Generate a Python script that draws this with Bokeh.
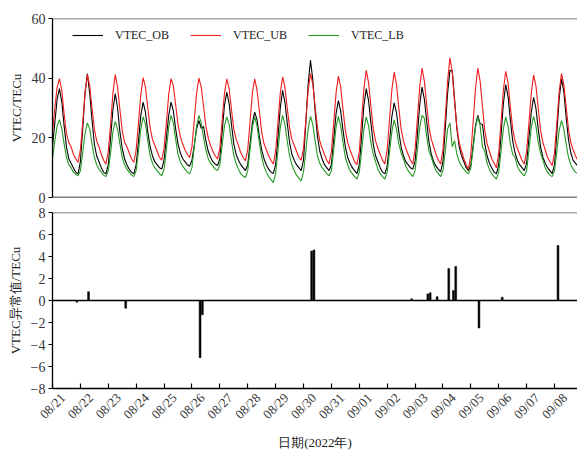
import math
import pandas as pd
from bokeh.plotting import figure
from bokeh.layouts import column
from bokeh.models import (Range1d, DatetimeAxis, DaysTicker, DatetimeTickFormatter,
                          FixedTicker, Legend, LegendItem, Span)
from bokeh.embed import file_html
from bokeh.resources import INLINE

# ---------------- data ----------------
start_time = "2022-08-21 00:00"
view_end = "2022-09-08 19:47"
sample_step = "2h"

vtec_ob = [
    17, 25, 33, 36.5, 32, 24, 17, 13, 11.5, 10, 8.5, 7.9,
    12, 23, 35, 41.5, 35, 26, 18, 14, 12, 10, 8.5, 7.9,
    11, 20, 29.5, 34.8, 30, 22, 16.5, 13, 11, 9.5, 8.5, 7.9,
    11, 19, 27.5, 32, 28.5, 22, 17, 14, 12, 11, 10, 9.5,
    12.5, 20, 27.5, 32, 29, 23, 18, 15, 13, 12, 11, 10.5,
    12.5, 17.5, 23, 25.8, 23.2, 23.8, 19, 15.5, 13.5, 12, 11.2, 10.7,
    13, 22, 31, 35.3, 31.5, 24.5, 18, 14.5, 12.5, 11, 10, 9,
    11, 18, 25, 28.6, 26, 20.5, 16, 13, 11, 9.5, 8.5, 8,
    11, 20, 30, 35.9, 32, 25, 18.5, 14.5, 12.5, 11, 10, 9,
    12.5, 25, 38, 46, 39.5, 29, 20.5, 15.5, 13, 11, 10, 9,
    11, 19.5, 28, 32.5, 29, 22.5, 17, 13.5, 11.5, 10, 9, 8,
    11, 20.5, 31, 36.5, 32.5, 25, 18, 14, 12, 10, 8.5, 7.9,
    10.5, 18.5, 27, 31.7, 28.5, 22, 17, 14, 12, 11, 10, 9.5,
    12, 21, 31, 37, 33, 25.5, 18.5, 14.5, 12, 10.5, 9.5, 8.6,
    12, 23, 35, 42.6, 42.5, 33, 23, 17, 14, 12, 10, 9,
    11, 17.5, 24, 27.5, 24.7, 24.5, 18, 14, 11.5, 10, 8.5, 7.9,
    11, 21, 31.5, 37.8, 34, 26, 19, 15, 12.5, 11, 10, 9,
    11.5, 20, 28.5, 33.6, 30, 23, 17, 13.5, 11.5, 10, 9, 8,
    11, 21.5, 33, 39.8, 35.5, 27, 19.5, 15, 12.5, 11.5, 10.5, 9.5,
]

vtec_ub = [
    22, 30, 37, 39.8, 36, 28, 21.5, 18.5, 17, 14.5, 13, 11.8,
    16, 25, 35, 41.2, 37.5, 30, 23, 19, 17, 14.5, 12.5, 11.2,
    15.5, 24.5, 35, 41.2, 37, 29.5, 22.5, 18.5, 17, 15, 13, 11.8,
    16, 25, 34.5, 40.2, 37, 30, 23.5, 19.5, 17.5, 15.5, 13.5, 12.5,
    16.5, 25, 34.5, 39.8, 37.5, 31, 24.5, 20.5, 18, 16, 14.5, 13.4,
    17, 26, 35, 40, 37, 30.5, 24, 20, 17.5, 15.5, 14, 12.9,
    16.5, 26, 35, 39.8, 36.5, 29.5, 23, 19.5, 17.5, 15, 13.5, 12.3,
    16, 25.5, 35, 39.8, 36, 29, 22, 18, 16, 14, 12.5, 11.2,
    15.5, 25, 35, 40.4, 37, 30, 23.5, 19.5, 17.5, 15.5, 13.5, 12.5,
    16.5, 26, 36, 41.5, 38, 30.5, 23.5, 19, 16.5, 14.5, 12.5, 11.2,
    15.5, 25, 35, 40.7, 37, 29.5, 22.5, 18.5, 16, 14, 12, 11,
    15.5, 26, 36.5, 42.6, 38.5, 30.5, 23, 19, 16.5, 14.5, 12.5, 11.2,
    16, 26, 36, 42, 38, 30, 23, 19, 16.5, 14.5, 12.5, 11.2,
    16, 26.5, 37, 43.4, 39, 31, 23.5, 19.5, 17, 14.5, 12.5, 11.2,
    16, 27, 39, 46.8, 42, 32, 23.5, 18.5, 15.5, 13, 11, 9.5,
    14.5, 25.5, 36.5, 43.4, 39, 30.5, 22.5, 18, 15.5, 13, 11.5, 10,
    15, 25.5, 36, 42.3, 38.5, 30.5, 23, 19, 16.5, 14.5, 12.5, 11.2,
    15.5, 25, 35, 41, 37.5, 30, 22.5, 18.5, 16, 13.5, 12, 10.7,
    15, 25, 35.5, 41.5, 38, 30.5, 23, 18.5, 16, 14, 12.5, 11.5,
]

vtec_lb = [
    13, 19, 24, 26.1, 23, 18, 13.5, 11, 10, 8.5, 7.8, 7.3,
    9, 15, 21.5, 25, 23, 18, 13.5, 11, 9.5, 8.5, 7.5, 7,
    9, 15, 22, 25.5, 23, 18, 13.5, 11, 9.5, 8.5, 7.5, 7,
    9, 15.5, 23, 27, 24.5, 19, 14, 11.5, 10, 9, 8, 7.3,
    9.5, 16, 23.5, 27.5, 25, 19.5, 14.5, 12, 10.5, 9.5, 8.5, 7.9,
    10, 17, 24, 27.5, 25, 20, 16, 13, 11.5, 10.5, 9.5, 9,
    11, 17.5, 24, 27, 24.5, 19, 14, 11.5, 9.5, 8, 7.2, 6.7,
    9, 16, 23.5, 27, 24, 18.5, 13.5, 10.5, 8.5, 7, 6, 5,
    8, 15.5, 23.5, 27.5, 24.5, 19, 14, 11, 9, 7.5, 6.5, 5.6,
    8.5, 15.5, 23, 27.2, 24.5, 19, 14, 11.5, 10, 9, 8, 7.3,
    9, 16, 23.5, 27.2, 24, 18.5, 13.5, 11, 9, 8, 7, 6.2,
    8.5, 15.5, 23, 27, 24, 18.5, 14.5, 12, 9.5, 8, 7, 6.2,
    8.5, 15, 22, 26, 23, 18, 15, 13, 10.5, 9, 8, 7,
    9, 16, 23.5, 27.5, 26.5, 20.5, 15.5, 13.5, 11, 9, 8, 7,
    9, 15.5, 23, 25, 17, 19, 14.5, 12, 10.5, 9.5, 8.5, 7.9,
    10, 16.5, 23.5, 27, 24, 17, 15.5, 11.5, 9.5, 8, 7, 6.2,
    8.5, 15.5, 23, 27, 24, 18, 14.5, 13.5, 10.5, 9, 8, 7.3,
    9, 16, 23.5, 27.2, 24, 18.5, 15, 12.5, 10, 8.5, 7.5, 7,
    9, 15.5, 22.5, 25.8, 23, 18, 13.5, 11, 9.5, 8.5, 8, 7.5,
]

anom_times = [
    "2022-08-21 21:00", "2022-08-22 07:00", "2022-08-23 15:00",
    "2022-08-26 07:00", "2022-08-26 09:00", "2022-08-30 07:00",
    "2022-08-30 09:00", "2022-09-02 21:00", "2022-09-03 11:00",
    "2022-09-03 13:00", "2022-09-03 19:00", "2022-09-04 05:00",
    "2022-09-04 09:00", "2022-09-04 11:00", "2022-09-05 07:00",
    "2022-09-06 03:00", "2022-09-08 03:00",
]
anom_vals = [-0.15, 0.8, -0.7, -5.2, -1.3, 4.5, 4.6, 0.15, 0.6, 0.7,
             0.35, 2.9, 0.9, 3.1, -2.5, 0.3, 5.0]

series_names = ["VTEC_OB", "VTEC_UB", "VTEC_LB"]
series_colors = ["black", "#ee1c1c", "#249a24"]
top_yticks = [0, 20, 40, 60]
bottom_yticks = [-8, -6, -4, -2, 0, 2, 4, 6, 8]
top_ylabel = "VTEC/TECu"
bottom_ylabel = "VTEC异常值/TECu"
xlabel = "日期(2022年)"

# ---------------- plotting ----------------
FONT = "Liberation Serif"
times = pd.date_range(start_time, periods=len(vtec_ob), freq=sample_step)
x0 = pd.Timestamp(start_time)
x1 = pd.Timestamp(view_end)
label_shift = pd.Timedelta(hours=9)
xr = Range1d(start=x0, end=x1)

LEFT, FW, FH = 52, 525, 179


def style_y(p, ticks, label):
    ax = p.yaxis[0]
    ax.ticker = FixedTicker(ticks=ticks)
    ax.axis_label = label
    ax.axis_label_text_font = FONT
    ax.axis_label_text_font_style = "normal"
    ax.axis_label_text_font_size = "13px"
    ax.axis_label_text_color = "#222222"
    ax.axis_label_standoff = 5
    ax.major_label_text_font = FONT
    ax.major_label_text_font_size = "14px"
    ax.major_label_text_color = "#333333"
    ax.major_label_standoff = 3
    ax.major_tick_out = 4
    ax.major_tick_in = 0
    ax.minor_tick_line_color = None
    ax.axis_line_width = 1.3
    ax.major_tick_line_width = 1.2


p1 = figure(x_axis_type="datetime", x_range=xr, y_range=Range1d(0, 60),
            width=LEFT + FW, height=18 + FH + 7,
            min_border_left=LEFT, min_border_right=0, min_border_top=18, min_border_bottom=7,
            output_backend="svg", toolbar_location=None)
p1.grid.visible = False
p1.xaxis.visible = False
p1.outline_line_color = None
style_y(p1, top_yticks, top_ylabel)
p1.add_layout(Span(location=60, dimension="width", line_color="#555555", line_width=1.3))
p1.add_layout(Span(location=0, dimension="width", line_color="black", line_width=1.4))

renderers = []
for ys, c in zip([vtec_ob, vtec_ub, vtec_lb], series_colors):
    renderers.append(p1.line(times, ys, line_color=c, line_width=1.1))

legend = Legend(items=[LegendItem(label=n, renderers=[r]) for n, r in zip(series_names, renderers)],
                orientation="horizontal", location=(20, 152),
                padding=0, margin=0, spacing=21, label_standoff=12,
                glyph_width=31, glyph_height=20,
                border_line_color=None, background_fill_alpha=0,
                label_text_font=FONT, label_text_font_size="12px", label_text_color="#222222")
p1.add_layout(legend)

p2 = figure(x_axis_type="datetime", x_range=xr, y_range=Range1d(-8, 8),
            width=LEFT + FW, height=8 + FH + 62,
            min_border_left=LEFT, min_border_right=0, min_border_top=8, min_border_bottom=62,
            output_backend="svg", toolbar_location=None)
p2.grid.visible = False
p2.outline_line_color = None
style_y(p2, bottom_yticks, bottom_ylabel)
p2.add_layout(Span(location=8, dimension="width", line_color="#555555", line_width=1.3))

mx = p2.xaxis[0]
mx.ticker = DaysTicker(days=list(range(1, 32)))
mx.major_label_text_font_size = "1px"
mx.major_label_text_color = None
mx.major_label_standoff = 0
mx.major_tick_in = 5
mx.major_tick_out = 0
mx.minor_tick_line_color = None
mx.axis_line_width = 1.3
mx.major_tick_line_width = 1.2

p2.extra_x_ranges = {"lab": Range1d(start=x0 - label_shift, end=x1 - label_shift)}
lab_axis = DatetimeAxis(x_range_name="lab", ticker=DaysTicker(days=list(range(1, 32))),
                        formatter=DatetimeTickFormatter(days="%m/%d", months="%m/%d", hours="%m/%d"),
                        major_label_orientation=math.pi / 4,
                        axis_line_color=None, major_tick_line_color=None, minor_tick_line_color=None,
                        major_label_standoff=1,
                        major_label_text_font=FONT, major_label_text_font_size="13px",
                        major_label_text_color="#333333",
                        axis_label=xlabel, axis_label_standoff=5,
                        axis_label_text_font=FONT, axis_label_text_font_style="normal",
                        axis_label_text_font_size="13px", axis_label_text_color="#222222")
p2.add_layout(lab_axis, "below")

p2.add_layout(Span(location=0, dimension="width", line_color="black", line_width=1.3))
p2.vbar(x=pd.to_datetime(anom_times), top=anom_vals, bottom=0,
        width=1.6 * 3600 * 1000, fill_color="black", line_color="black", line_width=0.5)

layout = column(p1, p2, spacing=0)
open("out.html", "w").write(file_html(layout, INLINE))
